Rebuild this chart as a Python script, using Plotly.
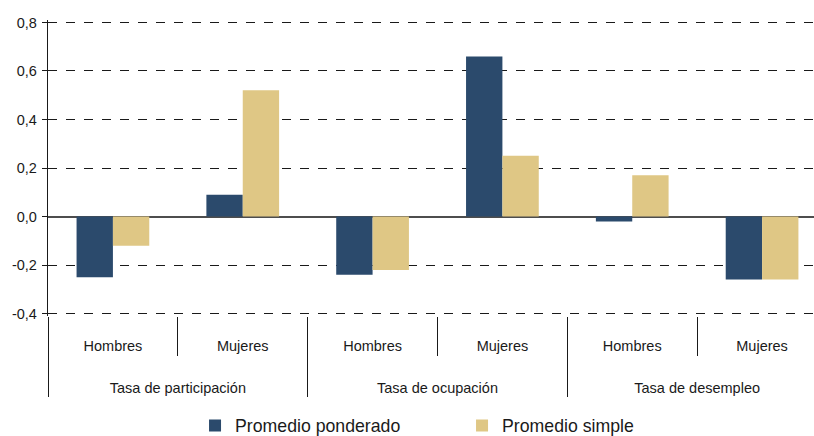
import plotly.graph_objects as go

# ---- data ----
indicators = ["Tasa de participación", "Tasa de ocupación", "Tasa de desempleo"]
sexes = ["Hombres", "Mujeres"]
ponderado = [-0.25, 0.09, -0.24, 0.66, -0.02, -0.26]
simple = [-0.12, 0.52, -0.22, 0.25, 0.17, -0.26]
y_tick_vals = [-0.4, -0.2, 0.0, 0.2, 0.4, 0.6, 0.8]
y_tick_text = ["-0,4", "-0,2", "0,0", "0,2", "0,4", "0,6", "0,8"]
series_names = ["Promedio ponderado", "Promedio simple"]

# ---- build multicategory x ----
# invisible non-breaking spaces (slightly taller font) around the sub-label
# and blank lines above the group label reproduce the row spacing
PAD = "<span style='font-size:20px'>\u00a0</span>"
lvl_group = []
lvl_sub = []
for ind in indicators:
    for s in sexes:
        lvl_group.append("<br><br>" + ind)
        lvl_sub.append(PAD + s + PAD)
x = [lvl_group, lvl_sub]

FONT = "Liberation Sans, Arial, sans-serif"
DARK = "#2b4a6c"
TAN = "#dfc785"

fig = go.Figure()
fig.add_trace(go.Bar(x=x, y=ponderado, name=series_names[0],
                     marker=dict(color=DARK, line=dict(width=0))))
fig.add_trace(go.Bar(x=x, y=simple, name=series_names[1],
                     marker=dict(color=TAN, line=dict(width=0))))

fig.update_layout(
    width=814, height=436,
    margin=dict(l=48, r=0, t=19.6, b=119.6, autoexpand=False),
    paper_bgcolor="white", plot_bgcolor="white",
    barmode="group", bargap=0.44, bargroupgap=0,
    separators=",.",
    font=dict(family=FONT, size=14.5, color="#1a1a1a"),
    showlegend=True,
    legend=dict(orientation="h", xref="container", yref="container",
                x=0.2396, xanchor="left", y=0.023, yanchor="middle",
                font=dict(size=17.7, color="#1a1a1a"),
                entrywidth=222, traceorder="normal"),
    xaxis=dict(type="multicategory", range=[-0.5, 5.4],
               showline=False, showgrid=False, zeroline=False,
               ticks="outside", tickson="boundaries", ticklen=39,
               tickcolor="#1a1a1a", tickwidth=1.3,
               ticklabelstandoff=19,
               showdividers=True, dividercolor="#1a1a1a", dividerwidth=1.3,
               tickfont=dict(size=14.5, color="#1a1a1a")),
    xaxis2=dict(type="category", categoryorder="array",
                categoryarray=["a", "b", "c", "d", "e", "f"],
                overlaying="x", anchor="free", position=0.41/1.22,
                range=[-0.5, 5.4], showline=False, showgrid=False,
                zeroline=False, ticks="outside", tickson="boundaries",
                ticklen=5, tickcolor="#4d4d4d", tickwidth=1.3,
                showticklabels=False),
    yaxis=dict(range=[-0.41, 0.81], tickvals=y_tick_vals, ticktext=y_tick_text,
               showline=True, linecolor="#1a1a1a", linewidth=1.3,
               ticks="outside", ticklen=5, tickcolor="#1a1a1a", tickwidth=1.3,
               showgrid=True, gridcolor="#1a1a1a", gridwidth=1, griddash="dash",
               zeroline=True, zerolinecolor="#4d4d4d", zerolinewidth=1.8,
               ticklabelstandoff=2,
               tickfont=dict(size=14.5, color="#1a1a1a")),
)

fig.write_html("out.html", config={"displayModeBar": False},
               post_script="document.body.style.margin='0';")
